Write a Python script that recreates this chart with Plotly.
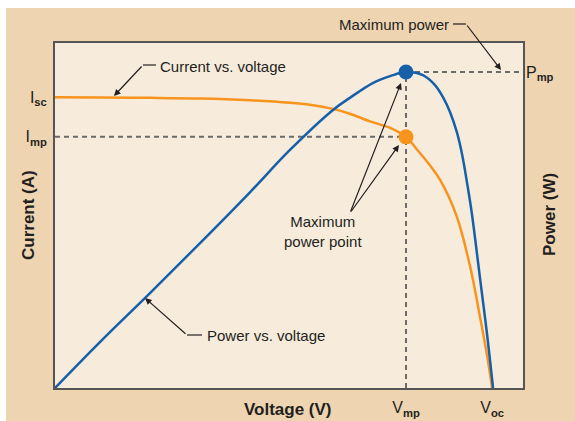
import plotly.graph_objects as go

# ---- data (normalised units) ----
iv_voltage = [0, 9.6, 20.3, 31.0, 41.7, 50.2, 54.5, 59.4, 63.0, 67.3, 71.6, 75.0, 77.3, 80.1, 82.3, 85.8, 88.7, 90.8, 92.3, 93.4]
iv_current = [84.3, 84.2, 84.1, 83.9, 83.4, 82.7, 82.1, 80.9, 79.5, 77.3, 75.4, 72.8, 69.2, 64.6, 60.3, 49.9, 35.2, 20.7, 9.6, 0]

pv_voltage = [0, 9.6, 20.3, 31.0, 41.7, 50.2, 59.4, 63.0, 67.9, 71.6, 75.0, 78.6, 81.2, 82.9, 84.4, 85.9, 87.0, 88.2, 89.1, 90.8, 92.3, 93.6]
pv_power = [0, 13.3, 27.5, 42.0, 56.8, 69.0, 80.6, 84.1, 88.4, 90.4, 91.6, 90.7, 87.8, 84.3, 80.0, 74.0, 67.6, 58.2, 50.3, 32.0, 15.8, 0]

v_mp, v_oc = 75.0, 93.4
i_sc, i_mp = 84.3, 72.8
p_mp = 91.6
axis_max = 100

x_tick_vals = [v_mp, v_oc]
x_tick_text = ["V<sub><b>mp</b></sub>", "V<sub><b>oc</b></sub>"]
y_tick_vals = [i_sc, i_mp]
y_tick_text = ["I<sub><b>sc</b></sub>", "I<sub><b>mp</b></sub>"]
y2_tick_vals = [p_mp]
y2_tick_text = ["P<sub><b>mp</b></sub>"]

ORANGE = "#f7941d"
BLUE = "#1660aa"
DASH = "#6b6b6b"
INK = "#231f20"
FONT = "Liberation Sans, Arial, sans-serif"

fig = go.Figure()

dash_line = dict(color=DASH, width=2, dash="5px,4px")
fig.add_trace(go.Scatter(x=[0, v_mp], y=[i_mp, i_mp], mode="lines", line=dash_line, hoverinfo="skip"))
fig.add_trace(go.Scatter(x=[v_mp, axis_max], y=[p_mp, p_mp], mode="lines", line=dash_line, hoverinfo="skip"))
fig.add_trace(go.Scatter(x=[v_mp, v_mp], y=[0, p_mp], mode="lines", line=dash_line, hoverinfo="skip"))

fig.add_trace(go.Scatter(x=iv_voltage, y=iv_current, mode="lines",
                         line=dict(color=ORANGE, width=2.5, shape="spline", smoothing=1.0),
                         name="Current vs. voltage"))
fig.add_trace(go.Scatter(x=pv_voltage, y=pv_power, mode="lines",
                         line=dict(color=BLUE, width=2.5, shape="spline", smoothing=1.0),
                         name="Power vs. voltage", yaxis="y2"))

fig.add_trace(go.Scatter(x=[v_mp], y=[i_mp], mode="markers",
                         marker=dict(color=ORANGE, size=15, line=dict(width=0))))
fig.add_trace(go.Scatter(x=[v_mp], y=[p_mp], mode="markers",
                         marker=dict(color=BLUE, size=15, line=dict(width=0)), yaxis="y2"))

# px -> data helpers for annotation placement
L, R, T, B = 55, 523, 43, 388
def dx(px):
    return (px - L) / (R - L) * axis_max
def dy(py):
    return (B - py) / (B - T) * axis_max
def ppx(px):
    return (px - L) / (R - L)
def ppy(py):
    return (B - py) / (B - T)

shapes = [
    dict(type="rect", xref="paper", yref="paper", x0=ppx(6), x1=ppx(600), y0=ppy(440), y1=ppy(8),
         fillcolor="#eed4b0", line=dict(width=0), layer="below"),
    dict(type="rect", xref="paper", yref="paper", x0=0, x1=1, y0=0, y1=1,
         fillcolor="#f7ecdc", line=dict(width=0), layer="below"),
]
seg = dict(color=INK, width=1.2)
# leader hooks
shapes.append(dict(type="line", xref="paper", yref="paper", x0=ppx(143), x1=ppx(156), y0=ppy(65), y1=ppy(65), line=seg))
shapes.append(dict(type="line", xref="paper", yref="paper", x0=ppx(453), x1=ppx(466), y0=ppy(24), y1=ppy(24), line=seg))
shapes.append(dict(type="line", xref="paper", yref="paper", x0=ppx(187), x1=ppx(202), y0=ppy(335), y1=ppy(335), line=seg))

arrow = dict(showarrow=True, arrowhead=2, arrowsize=1.1, arrowwidth=1.2, arrowcolor=INK, text="", standoff=0)
annotations = [
    dict(x=dx(114), y=dy(96), ax=dx(143), ay=dy(65), xref="x", yref="y", axref="x", ayref="y", **arrow),
    dict(x=dx(501), y=dy(70), ax=-35, ay=-46, xref="x", yref="y", **arrow),
    dict(x=dx(401), y=dy(83), ax=dx(350), ay=dy(213), xref="x", yref="y", axref="x", ayref="y", **arrow),
    dict(x=dx(399), y=dy(145), ax=dx(350), ay=dy(213), xref="x", yref="y", axref="x", ayref="y", **arrow),
    dict(x=dx(145), y=dy(298), ax=dx(187), ay=dy(335), xref="x", yref="y", axref="x", ayref="y", **arrow),
]
txt = dict(showarrow=False, font=dict(family=FONT, size=15, color=INK), xref="paper", yref="paper")
annotations += [
    dict(text="Current vs. voltage", x=ppx(158), y=ppy(66), xanchor="left", yanchor="middle", **txt),
    dict(text="Maximum power", x=ppx(451), y=ppy(24), xanchor="right", yanchor="middle", **txt),
    dict(text="Maximum<br>power point", x=ppx(323), y=ppy(231), xanchor="center", yanchor="middle", **txt),
    dict(text="Power vs. voltage", x=ppx(205), y=ppy(335), xanchor="left", yanchor="middle", **txt),
]
bold = dict(showarrow=False, font=dict(family=FONT, size=17, color=INK), xref="paper", yref="paper")
annotations += [
    dict(text="<b>Voltage (V)</b>", x=ppx(288), y=ppy(409), xanchor="center", yanchor="middle", **bold),
    dict(text="<b>Current (A)</b>", x=ppx(28), y=ppy(215), xanchor="center", yanchor="middle", textangle=-90, **bold),
    dict(text="<b>Power (W)</b>", x=ppx(549), y=ppy(215), xanchor="center", yanchor="middle", textangle=-90, **bold),
]

tickfont = dict(family=FONT, size=16, color=INK)
fig.update_layout(
    width=575, height=421,
    margin=dict(l=L, r=575 - R, t=T, b=421 - B),
    paper_bgcolor="white",
    plot_bgcolor="#f7ecdc",
    showlegend=False,
    shapes=shapes,
    annotations=annotations,
    xaxis=dict(range=[0, axis_max], showgrid=False, zeroline=False, showline=True, mirror=True,
               linecolor="#555555", linewidth=2, ticks="", tickvals=x_tick_vals, ticktext=x_tick_text,
               tickfont=tickfont, ticklabelstandoff=4, automargin=False),
    yaxis=dict(range=[0, axis_max], showgrid=False, zeroline=False, showline=True, mirror=True,
               linecolor="#555555", linewidth=2, ticks="", tickvals=y_tick_vals, ticktext=y_tick_text,
               tickfont=tickfont, ticklabelstandoff=3, automargin=False),
    yaxis2=dict(range=[0, axis_max], overlaying="y", side="right", anchor="x", showgrid=False,
                zeroline=False, showline=False, ticks="", tickvals=y2_tick_vals, ticktext=y2_tick_text,
                tickfont=tickfont, ticklabelstandoff=2, automargin=False),
)

post = "document.documentElement.style.margin='0';document.body.style.margin='0';"
fig.write_html("out.html", config={"displayModeBar": False}, post_script=post)
